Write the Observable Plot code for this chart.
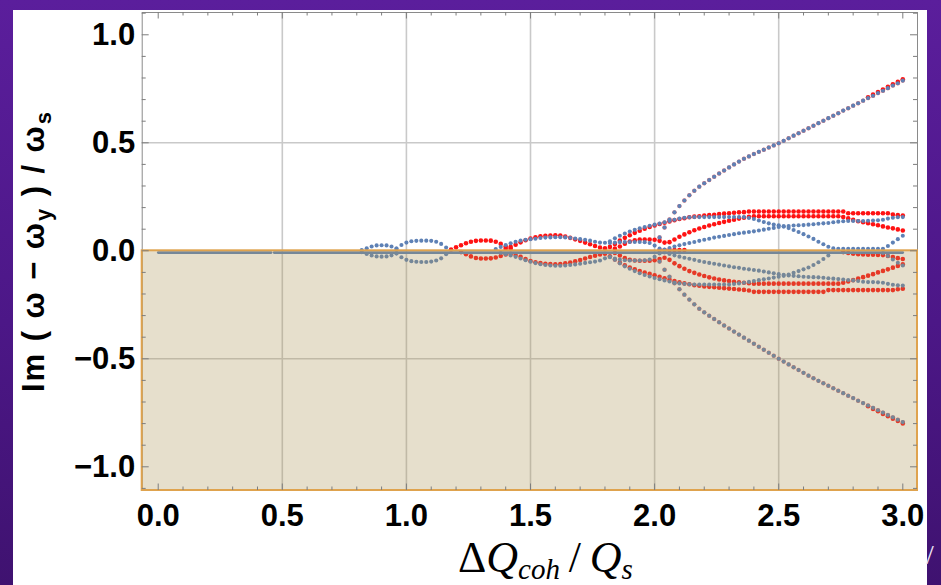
<!DOCTYPE html>
<html>
<head>
<meta charset="utf-8">
<script src="https://cdn.jsdelivr.net/npm/d3@7"></script>
<script src="https://cdn.jsdelivr.net/npm/@observablehq/plot@0.6"></script>
<style>
html,body{margin:0;padding:0;}
body{width:941px;height:585px;overflow:hidden;position:relative;
  background:linear-gradient(to bottom,#5b1e9c 0%,#4c1787 55%,#3f1270 100%);
  font-family:"Liberation Sans",Arial,sans-serif;}
#card{position:absolute;left:13px;top:10px;width:914px;height:600px;background:#ffffff;}
#chart{position:absolute;left:0;top:0;}
#slash{position:absolute;left:926px;top:541px;color:#eee6f5;font:28px/1 "Liberation Serif",serif;}
</style>
</head>
<body>
<div id="card"></div>
<div id="chart"></div>
<div id="slash">/</div>
<script>
// ---------- axes / ticks ----------
const xMajor = [0, 0.5, 1, 1.5, 2, 2.5, 3];
const yMajor = [-1, -0.5, 0, 0.5, 1];
const xMinor = [0.1,0.2,0.3,0.4,0.6,0.7,0.8,0.9,1.1,1.2,1.3,1.4,1.6,1.7,1.8,1.9,2.1,2.2,2.3,2.4,2.6,2.7,2.8,2.9];
const yMinor = [-1.1,-0.9,-0.8,-0.7,-0.6,-0.4,-0.3,-0.2,-0.1,0.1,0.2,0.3,0.4,0.6,0.7,0.8,0.9,1.1];
const xGrid = [0.5, 1, 1.5, 2, 2.5];
const yGrid = [-0.5, 0.5];
const xDomain = [-0.0645, 3.0592];
const yDomain = [-1.1097, 1.1032];

// ---------- data: Im((w - w_y)/w_s) tracks, sampled every 0.02 in dQcoh/Qs ----------
const step = 0.02;
// modes sitting on Im = 0 (drawn as a dense row)
const zeroRowX = [0, 0.455, 0.467, 3.0];
const zeroRowY = [0, 0, 0, 0];
const zeroRowSeg = [1, 1, 2, 2];

// blue series
const blueBub1Up = [0.004,0.012,0.02,0.025,0.026,0.025,0.02,0.01];                      // from 0.82
const blueBub1Dn = [-0.006,-0.015,-0.022,-0.026,-0.027,-0.026,-0.021,-0.012];           // from 0.82
const blueBub2Up = [0.01,0.027,0.038,0.044,0.046,0.047,0.047,0.046,0.042,0.032,0.015];   // from 0.96
const blueBub2Dn = [-0.012,-0.03,-0.042,-0.048,-0.051,-0.052,-0.052,-0.05,-0.045,-0.035,-0.016]; // from 0.96
const blueU1 = [0.008,0.018,0.027,0.035,0.042,0.047,0.051,0.054,0.056,0.059,
  0.061,0.062,0.063,0.063,0.062,0.06,0.057,0.054,0.051,0.047,
  0.042,0.038,0.037,0.044,0.058,0.07,0.08,0.089,0.097,0.104,
  0.11,0.116,0.121,0.126,0.132,0.138,0.144,0.149,0.153,0.155,
  0.156,0.156,0.156,0.156,0.156,0.156,0.156,0.156,0.156,0.156,0.156,
  0.152,0.147,0.14,0.133,0.127,0.122,0.118,0.113,0.105,0.096,0.087,0.077,0.066,0.055,0.042,0.03,0.019,0.011,
  0.009,0.009,0.009,0.009,0.009,0.009,0.009,0.009,0.009,0.009,
  0.022,0.038,0.054,0.07];                                                              // from 1.36
const blueL1 = [-0.01,-0.016,-0.022,-0.028,-0.036,-0.044,-0.051,-0.057,-0.062,-0.066,
  -0.068,-0.069,-0.069,-0.068,-0.066,-0.063,-0.06,-0.056,-0.053,-0.05,
  -0.045,-0.035,-0.028,-0.042,-0.058,-0.072,-0.083,-0.094,-0.104,-0.112,
  -0.119,-0.126,-0.132,-0.137,-0.142,-0.147,-0.151,-0.153,-0.155,-0.156,
  -0.156,-0.156,-0.156,-0.156,-0.156,-0.156,-0.156,
  -0.154,-0.151,-0.148,-0.144,-0.14,-0.136,-0.132,-0.128,-0.124,-0.12,
  -0.116,-0.11,-0.102,-0.094,-0.086,-0.077,-0.066,-0.053,-0.038,-0.022];                 // from 1.38
const blueL1End = [-0.01,-0.024,-0.04,-0.055,-0.068];                                   // from 2.92
const blueU2 = [0.006,0.013,0.02,0.026,0.031,0.036,0.041,0.046,0.051,0.056,
  0.061,0.065,0.069,0.073,0.077,0.081,0.084,0.087,0.09,0.094,
  0.098,0.102,0.106,0.11,0.113,0.115,0.117,0.118,0.119,0.121,
  0.123,0.125,0.127,0.129,0.132,0.135,0.137,0.138,0.138,0.138,
  0.138,0.139,0.14,0.141,0.144,0.149,0.153,0.155,0.156];                                // from 2.04
const blueL2 = [-0.008,-0.015,-0.021,-0.027,-0.032,-0.037,-0.042,-0.047,-0.052,-0.056,
  -0.06,-0.064,-0.068,-0.072,-0.076,-0.079,-0.083,-0.086,-0.089,-0.092,
  -0.096,-0.1,-0.104,-0.108,-0.111,-0.114,-0.116,-0.118,-0.12,-0.121,
  -0.122,-0.123,-0.125,-0.127,-0.129,-0.131,-0.133,-0.135,-0.137,-0.14,
  -0.143,-0.145,-0.145,-0.146,-0.148,-0.153,-0.157,-0.16,-0.161];                       // from 2.04
const blueU3 = [0.036,0.038,0.04,0.041,0.041,0.041,0.041,0.04,0.036,0.024,0.01];         // from 1.82
const blueL3 = [-0.03,-0.036,-0.041,-0.044,-0.045,-0.045,-0.045,-0.044,-0.04,-0.028,-0.012]; // from 1.82
// the strongly unstable / damped pair (both series)
const branchUp = [0.062,0.108,0.145,0.178,0.207,0.233,0.257,0.278,0.297,0.313,
  0.328,0.343,0.358,0.372,0.386,0.4,0.413,0.426,0.437,0.448,
  0.458,0.468,0.478,0.488,0.498,0.509,0.521,0.533,0.544,0.556,
  0.567,0.579,0.591,0.602,0.614,0.625,0.637,0.649,0.66,0.672,
  0.683,0.695,0.707,0.718,0.73,0.741,0.753,0.765,0.776,0.788];                         // from 2.02
const branchDn = [-0.05,-0.088,-0.12,-0.15,-0.178,-0.203,-0.226,-0.248,-0.268,-0.285,
  -0.301,-0.316,-0.331,-0.346,-0.36,-0.374,-0.388,-0.402,-0.416,-0.43,
  -0.444,-0.458,-0.472,-0.486,-0.5,-0.513,-0.526,-0.539,-0.552,-0.565,
  -0.578,-0.59,-0.602,-0.613,-0.625,-0.636,-0.648,-0.659,-0.671,-0.682,
  -0.694,-0.705,-0.716,-0.727,-0.738,-0.749,-0.76,-0.771,-0.782,-0.793];               // from 2.02

// red series
const redBub3Up = [0.006,0.016,0.026,0.035,0.042,0.046,0.048,0.048,0.047,0.042,0.032,0.02,0.01]; // from 1.18
const redBub3Dn = [-0.006,-0.016,-0.026,-0.033,-0.036,-0.036,-0.035,-0.031,-0.024,-0.017];      // from 1.22
const redU1 = [0.01,0.018,0.028,0.039,0.049,0.057,0.063,0.067,0.07,0.071,
  0.072,0.071,0.066,0.06,0.053,0.046,0.038,0.03,0.022,0.015,
  0.012,0.018,0.032,0.047,0.06,0.072,0.083,0.093,0.102,0.11,
  0.117,0.124,0.13,0.136,0.142,0.147,0.151,0.155,0.158,0.16,
  0.163,0.165,0.167,0.17,0.172,0.174,0.176,0.178,0.179,
  0.182,0.182,0.182,0.182,0.182,0.182,0.182,0.182,0.182,0.182,
  0.182,0.182,0.182,0.182,0.182,0.182,0.182,0.182,0.182,0.182,
  0.174,0.174,0.174,0.174,0.174,0.174,0.174,0.174,0.174,
  0.168,0.165,0.163];                                                                    // from 1.40
const redL1 = [-0.014,-0.02,-0.028,-0.038,-0.047,-0.053,-0.057,-0.06,-0.061,-0.062,
  -0.061,-0.058,-0.054,-0.049,-0.043,-0.036,-0.029,-0.023,-0.017,-0.014,
  -0.025,-0.04,-0.055,-0.067,-0.077,-0.086,-0.094,-0.101,-0.107,-0.113,
  -0.12,-0.127,-0.134,-0.14,-0.146,-0.151,-0.155,-0.159,-0.162,-0.165,
  -0.167,-0.169,-0.171,-0.173,-0.175,-0.177,-0.179,-0.181,-0.184,
  -0.19,-0.19,-0.19,-0.19,-0.19,-0.19,-0.19,-0.19,-0.19,-0.19,-0.19,-0.19,-0.19,-0.19,-0.19,
  -0.182,-0.182,-0.182,-0.182,-0.182,-0.182,-0.182,-0.182,-0.182,-0.182,-0.182,-0.182,-0.182,-0.182,
  -0.178,-0.176];                                                                        // from 1.42
const redU2 = [0.01,0.02,0.033,0.043,0.049,0.052,0.052,0.052,0.051,0.046,
  0.038,0.04,0.052,0.065,0.076,0.086,0.095,0.103,0.11,0.117,
  0.123,0.129,0.134,0.139,0.144,0.149,0.153,0.157,
  0.16,0.16,0.16,0.16,0.16,0.16,0.16,0.16,0.16,0.16,0.16,0.16,0.16,0.16,0.16,0.16,0.16,0.16,
  0.156,0.15,0.143,0.137,0.132,0.128,0.123,0.118,0.113,0.108,0.104,0.099,0.094];        // from 1.84
const redL2 = [-0.01,-0.022,-0.034,-0.042,-0.045,-0.046,-0.046,-0.046,-0.044,-0.038,
  -0.032,-0.042,-0.058,-0.071,-0.083,-0.094,-0.102,-0.11,-0.117,-0.123,
  -0.128,-0.133,-0.137,-0.14,-0.143,-0.146,-0.148,-0.15,
  -0.152,-0.152,-0.152,-0.152,-0.152,-0.152,-0.152,-0.152,-0.152,-0.152,-0.152,-0.152,-0.152,-0.152,-0.152,-0.152,-0.152,-0.152,
  -0.148,-0.142,-0.136,-0.129,-0.122,-0.115,-0.108,-0.1,-0.093,-0.086,-0.078,-0.07,-0.063]; // from 1.84
const redL3 = [-0.006,-0.01,-0.014,-0.016,-0.017,-0.018,-0.018,-0.019,-0.02,-0.024,-0.029,-0.034,-0.038]; // from 2.76
const redNearZero = [0.004,0.004,0.004,0.004,0.004,0.004];                              // from 2.02
const redBranchUpEnd = [0.711,0.723,0.735,0.747,0.759,0.771,0.782,0.794];               // from 2.86
const redBranchDnEnd = [-0.72,-0.732,-0.743,-0.755,-0.766,-0.777,-0.788,-0.799];        // from 2.86

// ---------- build tables ----------
function track(x0, ys) {
  return ys.map((y, i) => ({x: +(x0 + i * step).toFixed(3), y}));
}
const bluePts = [
  ...track(0.82, blueBub1Up), ...track(0.82, blueBub1Dn),
  ...track(0.96, blueBub2Up), ...track(0.96, blueBub2Dn),
  ...track(1.36, blueU1), ...track(1.38, blueL1), ...track(2.92, blueL1End),
  ...track(2.04, blueU2), ...track(2.04, blueL2),
  ...track(1.82, blueU3), ...track(1.82, blueL3),
  ...track(2.02, branchUp), ...track(2.02, branchDn)
];
const redPts = [
  ...track(1.18, redBub3Up), ...track(1.22, redBub3Dn),
  ...track(1.40, redU1), ...track(1.42, redL1),
  ...track(1.84, redU2), ...track(1.84, redL2),
  ...track(2.76, redL3), ...track(2.02, redNearZero),
  ...track(2.86, redBranchUpEnd), ...track(2.86, redBranchDnEnd)
];
const redBranchPts = [...track(2.02, branchUp), ...track(2.02, branchDn)];
const zeroRow = zeroRowX.map((x, i) => ({x, y: zeroRowY[i], seg: zeroRowSeg[i]}));
const shade = [{x1: xDomain[0], x2: xDomain[1], y1: yDomain[0], y2: 0}];

// ---------- layout ----------
const W = 941, H = 585;
const mL = 141.7, mR = 24, mT = 12, mB = 95;
const fW = W - mL - mR, fH = H - mT - mB;
const tickC = "#7d7d7d";
const fmt = d3.format(".1f");

const chart = Plot.plot({
  width: W, height: H,
  marginLeft: mL, marginRight: mR, marginTop: mT, marginBottom: mB,
  style: {background: "transparent", overflow: "visible", fontFamily: '"Liberation Sans", Arial, sans-serif'},
  x: {domain: xDomain, label: null},
  y: {domain: yDomain, label: null},
  marks: [
    Plot.ruleX(xGrid, {stroke: "#c9c9c9", strokeWidth: 1.6}),
    Plot.ruleY(yGrid, {stroke: "#c9c9c9", strokeWidth: 1.6}),
    Plot.dot(redBranchPts, {x: "x", y: "y", r: 2.2, fill: "#f07070", stroke: null}),
    Plot.dot(redPts, {x: "x", y: "y", r: 2.3, fill: "#ff1212", stroke: null}),
    Plot.dot(bluePts, {x: "x", y: "y", r: 2.05, fill: "#5e81b5", stroke: null}),
    Plot.line(zeroRow, {x: "x", y: "y", z: "seg", stroke: "#5e81b5", strokeWidth: 2.6, dy: 1.8}),
    Plot.frame({stroke: "#8a8a8a", strokeWidth: 1}),
    Plot.rect(shade, {x1: "x1", x2: "x2", y1: "y1", y2: "y2", fill: "rgb(172,148,85)", fillOpacity: 0.3}),
    Plot.rect(shade, {x1: "x1", x2: "x2", y1: "y1", y2: "y2", fill: "none", stroke: "#dfa34e", strokeWidth: 2}),
    // inner ticks
    Plot.ruleX(xMinor, {stroke: tickC, insetBottom: fH - 3.5}),
    Plot.ruleX(xMinor, {stroke: tickC, insetTop: fH - 3.5}),
    Plot.ruleX(xMajor, {stroke: tickC, insetBottom: fH - 6.5}),
    Plot.ruleX(xMajor, {stroke: tickC, insetTop: fH - 6.5}),
    Plot.ruleY(yMinor, {stroke: tickC, insetRight: fW - 4}),
    Plot.ruleY(yMinor, {stroke: tickC, insetLeft: fW - 4}),
    Plot.ruleY(yMajor, {stroke: tickC, insetRight: fW - 7}),
    Plot.ruleY(yMajor, {stroke: tickC, insetLeft: fW - 7}),
    Plot.axisY(yMajor, {anchor: "left", tickSize: 0, tickPadding: 7, tickFormat: fmt,
      fontSize: 31, fontWeight: "bold", fill: "#000", label: null}),
    Plot.axisX(xMajor, {anchor: "bottom", tickSize: 0, tickPadding: 13, tickFormat: fmt,
      fontSize: 31, fontWeight: "bold", fill: "#000", label: null})
  ]
});
document.getElementById("chart").appendChild(chart);

// ---------- axis titles ----------
const svg = d3.select(chart);
const yt = svg.append("text")
  .attr("transform", "translate(43.5,252) rotate(-90)")
  .attr("text-anchor", "middle")
  .attr("font-family", '"Liberation Sans", Arial, sans-serif')
  .attr("font-size", 31).attr("font-weight", "bold").attr("fill", "#000")
  .attr("textLength", 280).attr("lengthAdjust", "spacing");
yt.append("tspan").text("Im ( ω − ω");
yt.append("tspan").attr("font-size", 22).attr("dy", 7).text("y");
yt.append("tspan").attr("dy", -7).text(" ) / ω");
yt.append("tspan").attr("font-size", 22).attr("dy", 7).text("s");

const xt = svg.append("text")
  .attr("x", 458).attr("y", 572)
  .attr("text-anchor", "start")
  .attr("font-family", '"Liberation Serif", "Times New Roman", serif')
  .attr("font-size", 44).attr("fill", "#000");
xt.append("tspan").text("Δ");
xt.append("tspan").attr("font-style", "italic").text("Q");
xt.append("tspan").attr("font-style", "italic").attr("font-size", 29).attr("dy", 7).text("coh");
xt.append("tspan").attr("dy", -7).text("\u2009/\u2009");
xt.append("tspan").attr("font-style", "italic").text("Q");
xt.append("tspan").attr("font-style", "italic").attr("font-size", 29).attr("dy", 7).text("s");
</script>
</body>
</html>
